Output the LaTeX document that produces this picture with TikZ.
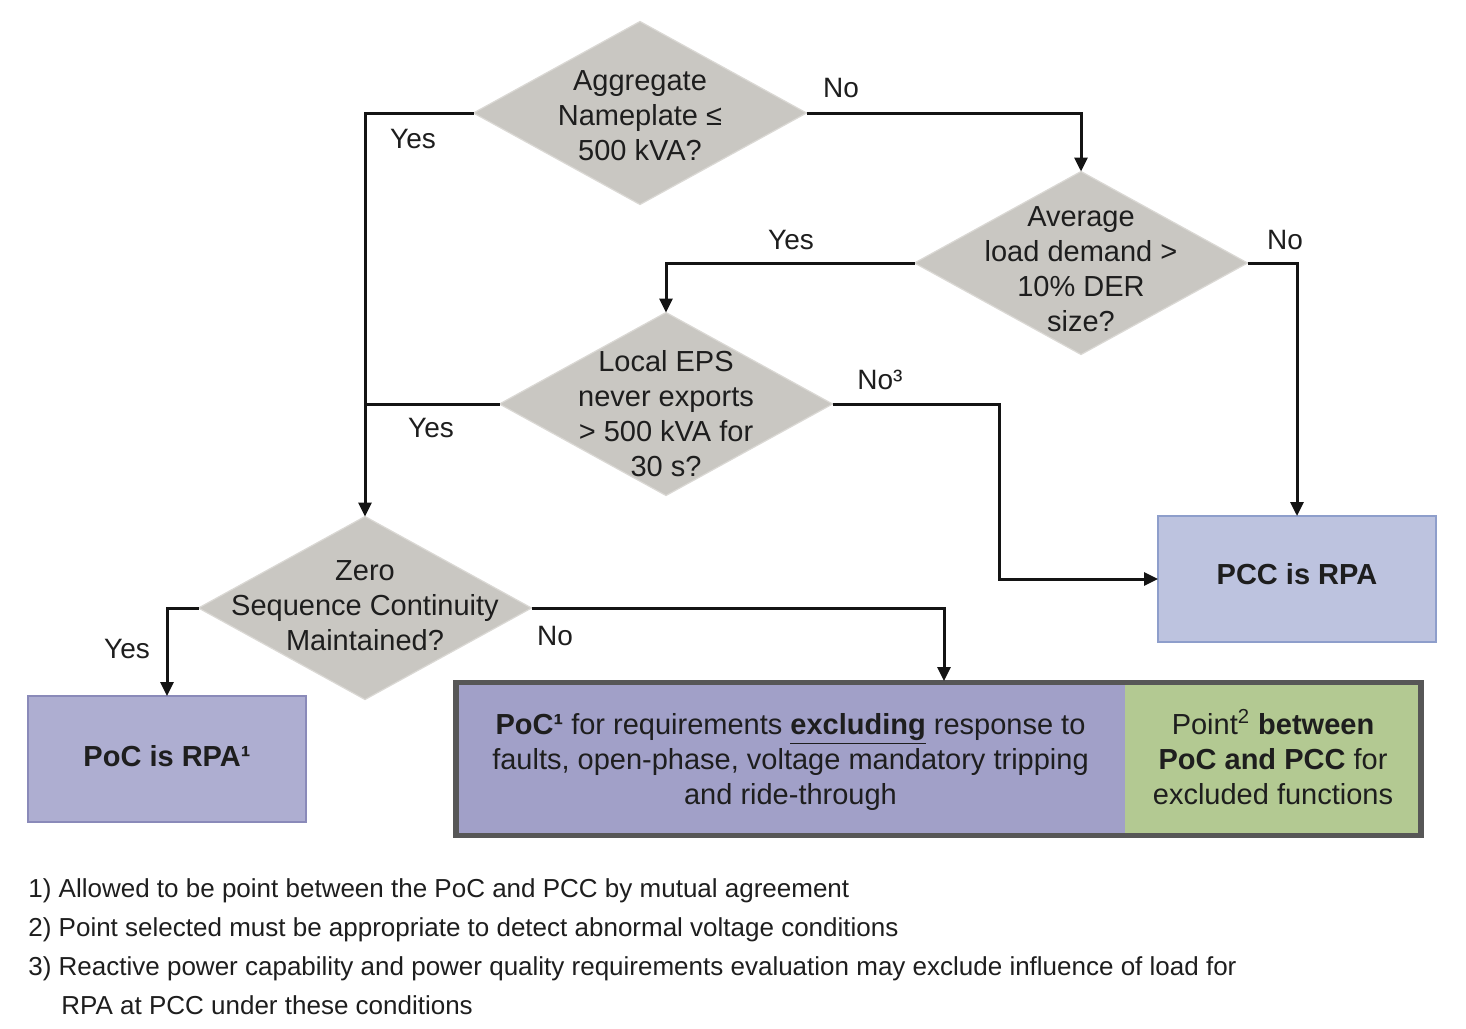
\documentclass[tikz,border=0pt]{standalone}
\usepackage{fontspec}
\setmainfont{Liberation Sans}
\usetikzlibrary{shapes.geometric,arrows.meta}
\definecolor{dfill}{HTML}{C9C7C2}
\definecolor{dline}{HTML}{DAD8D4}
\definecolor{txt}{HTML}{1E1E1E}
\definecolor{pocfill}{HTML}{AEAED1}
\definecolor{pocline}{HTML}{8A8AB9}
\definecolor{pccfill}{HTML}{BDC3DF}
\definecolor{pccline}{HTML}{8E9ECB}
\definecolor{bigfill}{HTML}{A1A0C8}
\definecolor{greenfill}{HTML}{B3C992}
\definecolor{bord}{HTML}{575757}
\begin{document}
\begin{tikzpicture}[x=0.5pt,y=-0.5pt,
  dia/.style={shape=diamond,fill=dfill,draw=dline,line width=0.6pt,inner sep=0pt,outer sep=0pt,minimum width=166.5pt,minimum height=91.5pt},
  dtext/.style={align=center,inner sep=0pt,text=txt,font=\fontsize{14.5}{17.5}\selectfont},
  lbl/.style={inner sep=0pt,text=txt,font=\fontsize{14}{17}\selectfont},
  rpabox/.style={rectangle,line width=0.7pt,inner sep=0pt,outer sep=0pt,minimum width=139pt,minimum height=63pt,text=txt,font=\fontsize{14.5}{17.5}\selectfont\bfseries},
  part/.style={rectangle,inner sep=0pt,outer sep=0pt,minimum width=60pt,minimum height=76.5pt,text=txt},
  ptext/.style={align=center,inner sep=0pt,text=txt,font=\fontsize{14.5}{17.5}\selectfont},
  conn/.style={line width=1.5pt,draw=black!92},
  arr/.style={conn,-{Triangle[length=7pt,width=6.5pt]}},
  fn/.style={anchor=base west,inner sep=0pt,text=txt,font=\fontsize{13}{15.6}\selectfont}]
\fill[white] (0,0) rectangle (1466,1028);
\useasboundingbox (0,0) rectangle (1466,1028);

% diamonds
\node[dia] (d1) at (640,113) {};
\node[dia] (d2) at (1081,263) {};
\node[dia] (d3) at (666,404) {};
\node[dia] (d4) at (365,608) {};
\node[dtext] (t1) at (640,116) {Aggregate\\Nameplate ≤\\500 kVA?};
\node[dtext] (t2) at (1081,269) {Average\\load demand >\\10\% DER\\size?};
\node[dtext] (t3) at (666,414) {Local EPS\\never exports\\> 500 kVA for\\30 s?};
\node[dtext] (t4) at (365,606) {Zero\\Sequence Continuity\\Maintained?};

% result boxes
\node[rpabox,fill=pocfill,draw=pocline,text depth=3pt] (poc) at (167,759) {PoC is RPA¹};
\node[rpabox,fill=pccfill,draw=pccline,text depth=5pt] (pcc) at (1297,579) {PCC is RPA};
\node[part,fill=bigfill,minimum width=334.5pt] (bl) at (790.5,759) {};
\node[part,fill=greenfill,minimum width=148pt] (br) at (1273,759) {};
\node[ptext] (blt) at (790.5,762)
  {\textbf{PoC¹} for requirements \underline{\textbf{excluding}} response to\\faults, open-phase, voltage mandatory tripping\\and ride-through};
\node[ptext] (brt) at (1273,757)
  {Point\textsuperscript{2} \textbf{between}\\\textbf{PoC and PCC} for\\excluded functions};
\draw[line width=2.6pt,draw=bord] (bl.north west) rectangle (br.south east);

% connectors
\coordinate (k3) at (999,404);
\coordinate (k4) at (944,681);
\draw[arr] (d1.west) -| (d4.north);
\draw[conn] (d3.west) -- (d3.west -| d4.north);
\draw[arr] (d1.east) -| (d2.north);
\draw[arr] (d2.west) -| (d3.north);
\draw[arr] (d2.east) -| (pcc.north);
\draw[arr] (d3.east) -- (k3) |- (pcc.west);
\draw[arr] (d4.west) -| (poc.north);
\draw[arr] (d4.east) -| (k4);

% labels
\node[lbl] (y1) at (413,139) {Yes};
\node[lbl] (n1) at (841,88) {No};
\node[lbl] (y2) at (791,240) {Yes};
\node[lbl] (n2) at (1285,240) {No};
\node[lbl] (y3) at (431,428) {Yes};
\node[lbl] (n3) at (880,380) {No³};
\node[lbl] (y4) at (127,649) {Yes};
\node[lbl] (n4) at (555,636) {No};

% footnotes
\node[fn] (f1) at (28,897) {1) Allowed to be point between the PoC and PCC by mutual agreement};
\node[fn] (f2) at (28,936) {2) Point selected must be appropriate to detect abnormal voltage conditions};
\node[fn] (f3) at (28,975) {3) Reactive power capability and power quality requirements evaluation may exclude influence of load for};
\node[fn] (f4) at (61,1014) {RPA at PCC under these conditions};
\end{tikzpicture}
\end{document}
